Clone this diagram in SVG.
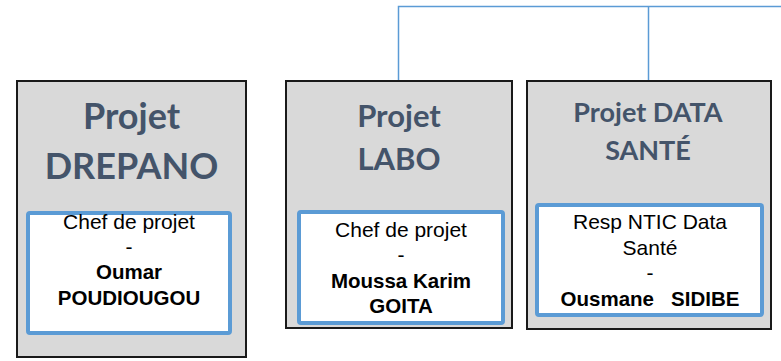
<svg xmlns="http://www.w3.org/2000/svg" width="781" height="361" viewBox="0 0 781 361">
<style>
.outer{fill:#D9D9D9;stroke:#1A1A1A;stroke-width:2}
.inner{fill:#FFFFFF;stroke:#5B9BD5;stroke-width:4}
.title{font-family:Lato,"Open Sans",sans-serif;font-weight:bold;fill:#44546A;text-anchor:middle}
.body{font-family:"Liberation Sans",Arial,sans-serif;font-size:21px;fill:#000;text-anchor:middle}
.b{font-weight:bold;font-size:20.5px}
.conn{fill:none;stroke:#5B9BD5;stroke-width:1.5}
</style>
<rect width="781" height="361" fill="#FFFFFF"/>
<g id="connectors">
<path class="conn" d="M398.5,81 V6.5 H781"/>
<path class="conn" d="M648.5,6.5 V81"/>
</g>
<g id="node-drepano">
<rect class="outer" x="17" y="81" width="229" height="276"/>
<text class="title" x="131.5" y="129" font-size="36">Projet</text>
<text class="title" x="131.5" y="179" font-size="36">DREPANO</text>
<rect class="inner" x="28" y="213" width="202" height="120" rx="2"/>
<text class="body" x="129" y="229">Chef de projet</text>
<text class="body" x="129" y="254">-</text>
<text class="body b" x="129" y="279">Oumar</text>
<text class="body b" x="129" y="305">POUDIOUGOU</text>
</g>
<g id="node-labo">
<rect class="outer" x="286" y="81" width="226" height="247"/>
<text class="title" x="399" y="127" font-size="31">Projet</text>
<text class="title" x="399" y="170" font-size="31">LABO</text>
<rect class="inner" x="299" y="212" width="204" height="111" rx="2"/>
<text class="body" x="401" y="237">Chef de projet</text>
<text class="body" x="401" y="262">-</text>
<text class="body b" x="401" y="288">Moussa Karim</text>
<text class="body b" x="401" y="313">GOITA</text>
</g>
<g id="node-datasante">
<rect class="outer" x="527" y="81" width="244" height="248"/>
<text class="title" x="648" y="122" font-size="27">Projet DATA</text>
<text class="title" x="648" y="160" font-size="27">SANTÉ</text>
<rect class="inner" x="537" y="205" width="225" height="110" rx="2"/>
<text class="body" x="650" y="229">Resp NTIC Data</text>
<text class="body" x="650" y="255">Santé</text>
<text class="body" x="650" y="280">-</text>
<text class="body b" x="650" y="306" xml:space="preserve">Ousmane   SIDIBE</text>
</g>
</svg>
